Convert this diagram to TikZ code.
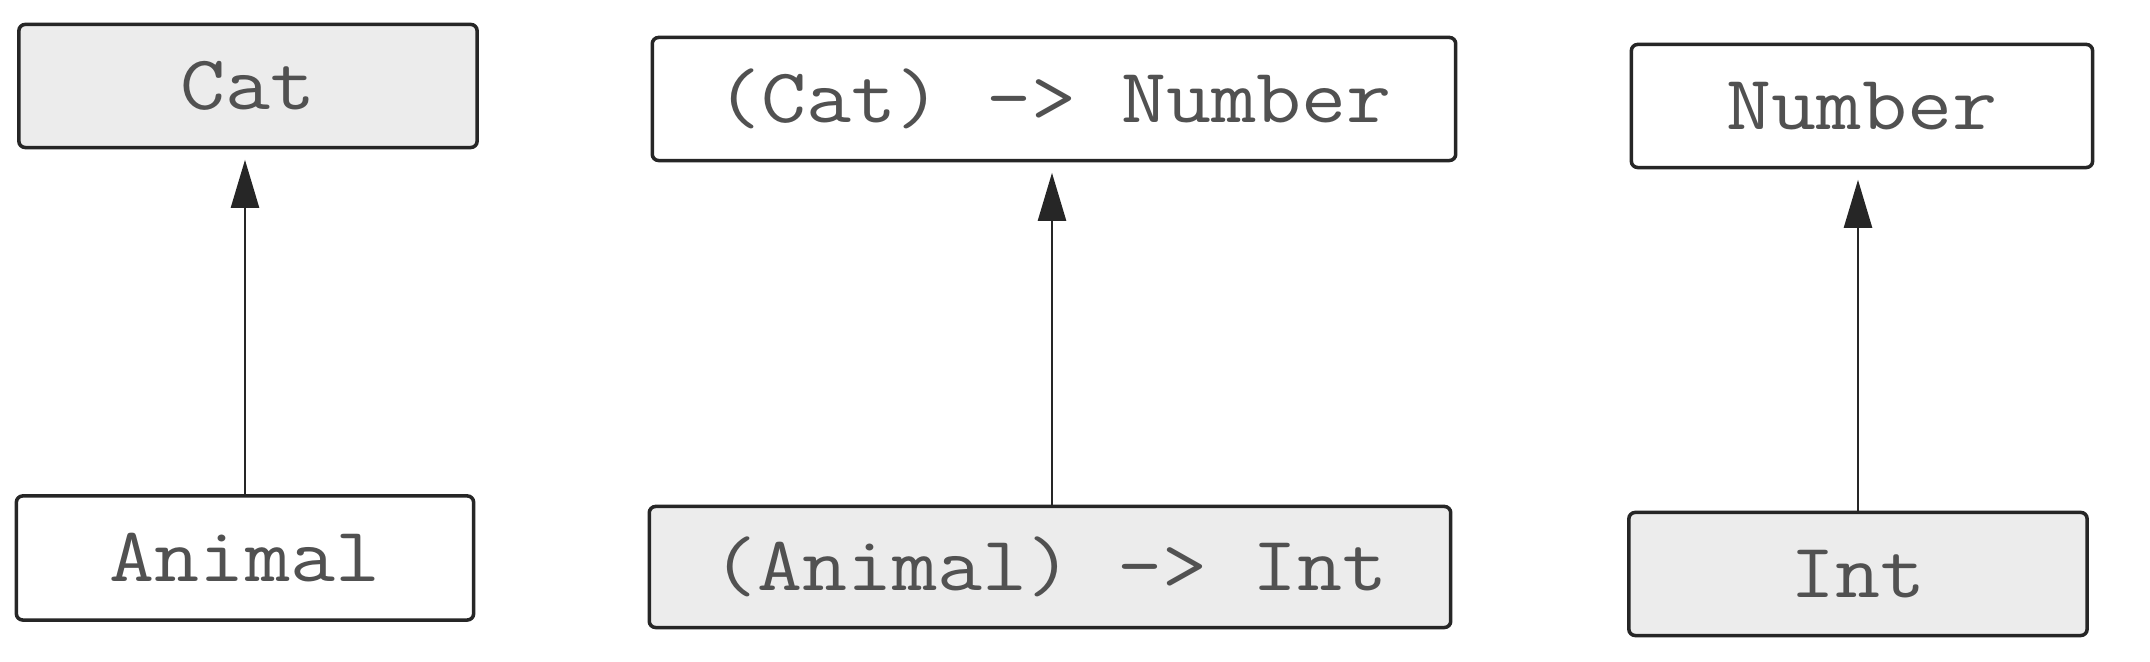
\documentclass[tikz,border=0pt]{standalone}
\usetikzlibrary{arrows.meta}
\definecolor{boxgray}{HTML}{ECECEC}
\definecolor{inkc}{HTML}{262626}
\newcommand{\tyname}[1]{\scalebox{1.13}[1]{#1}}
\tikzset{
  tbox/.style={draw=inkc, line width=1pt, rounded corners=1.8pt, rectangle,
    inner sep=0pt, font=\fontsize{22}{26}\selectfont\ttfamily, text=inkc!80},
  gbox/.style={tbox, fill=boxgray},
  wbox/.style={tbox, fill=white},
  subarrow/.style={draw=inkc, line width=0.7pt, -{Triangle[length=0.48cm,width=0.28cm]}, shorten >=3pt}
}
\begin{document}
\begin{tikzpicture}[x=0.01cm,y=-0.01cm]
\useasboundingbox[fill=white] (0,0) rectangle (2150,662);
\node[gbox, minimum width=4.58cm, minimum height=1.23cm] (cat) at (248,86) {\tyname{Cat}};
\node[wbox, minimum width=4.57cm, minimum height=1.24cm] (animal) at (245,558) {\tyname{Animal}};
\node[wbox, minimum width=8.03cm, minimum height=1.23cm] (catfn) at (1054,99) {\tyname{(Cat) -> Number}};
\node[gbox, minimum width=8.01cm, minimum height=1.21cm] (animalfn) at (1050,567) {\tyname{(Animal) -> Int}};
\node[wbox, minimum width=4.61cm, minimum height=1.23cm] (number) at (1862,106) {\tyname{Number}};
\node[gbox, minimum width=4.58cm, minimum height=1.23cm] (int) at (1858,574) {\tyname{Int}};
\coordinate (a1) at (245,0);
\coordinate (a2) at (1052,0);
\coordinate (a3) at (1858,0);
\draw[subarrow] (a1 |- animal.north) -- (a1 |- cat.south);
\draw[subarrow] (a2 |- animalfn.north) -- (a2 |- catfn.south);
\draw[subarrow] (a3 |- int.north) -- (a3 |- number.south);
\end{tikzpicture}
\end{document}
